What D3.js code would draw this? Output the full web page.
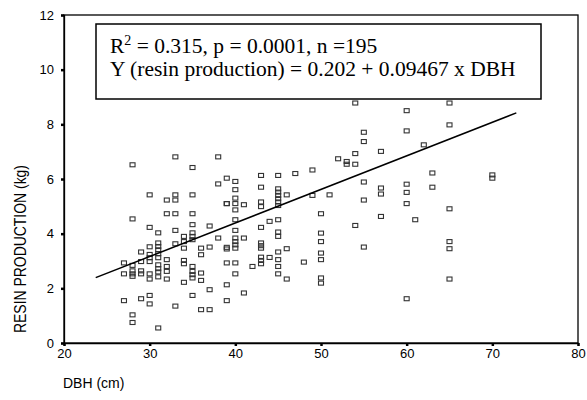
<!DOCTYPE html>
<html lang="en">
<head>
<meta charset="utf-8">
<title>Resin production vs DBH</title>
<style>
body { margin: 0; background: #fff; }
text { font-family: "Liberation Sans", Arial, sans-serif; fill: #000; }
.pts rect { fill: none; stroke: #333; stroke-width: 1.1px; }
.note text { font-family: "Liberation Serif", "Times New Roman", serif; font-size: 21.5px; }
</style>
</head>
<body>
<div id="chart"></div>
<script src="https://d3js.org/d3.v7.min.js"></script>
<script>

// DBH (cm) columns and the resin production values read for each
const dbh = [27, 28, 29, 30, 31, 32, 33, 34, 35, 36, 37, 38, 39, 40, 41, 42, 43, 44, 45, 46,
  47, 48, 49, 50, 51, 52, 53, 54, 55, 57, 60, 61, 62, 63, 65, 70];
const resin = [
  [2.93, 2.53, 1.55],
  [6.52, 4.54, 2.84, 2.64, 2.53, 2.44, 1.03, 0.75],
  [3.33, 2.98, 2.64, 2.53, 1.62],
  [5.42, 4.23, 3.52, 3.24, 3.12, 2.98, 2.53, 2.34, 1.74, 1.43],
  [4.03, 3.66, 3.53, 3.41, 3.27, 3.12, 2.86, 2.72, 2.60, 2.42, 0.55],
  [5.23, 4.73, 3.05, 2.80, 2.62, 2.34],
  [6.81, 5.42, 5.23, 4.73, 4.12, 3.63, 1.35],
  [3.90, 3.71, 3.47, 3.02, 2.90, 2.22],
  [6.42, 5.42, 4.73, 4.33, 4.03, 3.90, 3.78, 2.80, 2.62, 2.50, 2.38, 1.74],
  [3.47, 3.23, 2.56, 2.29, 1.22],
  [4.28, 3.51, 1.95, 1.22],
  [6.81, 5.82, 3.84],
  [6.03, 5.10, 5.10, 3.50, 3.44, 2.93, 2.13, 1.55],
  [5.91, 5.61, 5.30, 5.10, 4.87, 4.51, 4.12, 3.84, 3.71, 3.59, 3.47, 2.93, 2.53],
  [5.06, 3.84, 1.83],
  [2.80],
  [6.13, 5.70, 5.16, 4.99, 4.23, 3.66, 3.56, 3.47, 3.14, 3.02, 2.90],
  [4.45, 3.13],
  [6.13, 5.64, 5.52, 5.40, 5.28, 5.16, 5.03, 4.51, 4.06, 3.90, 3.33, 3.05, 2.80, 2.53],
  [5.42, 3.45, 2.34],
  [6.20],
  [2.96],
  [6.33, 5.40],
  [4.73, 4.02, 3.71, 3.29, 3.05, 2.38, 2.19],
  [5.42],
  [6.74],
  [6.64, 6.54],
  [8.78, 6.93, 6.54, 4.30],
  [7.71, 7.37, 5.89, 5.23, 3.51],
  [7.01, 5.67, 5.45, 4.63],
  [8.50, 7.76, 5.81, 5.51, 5.10, 1.62],
  [4.51],
  [7.25],
  [6.22, 5.70],
  [8.78, 7.98, 4.91, 3.71, 3.45, 2.34],
  [6.15, 6.03]
];

// fitted line as drawn in the figure
const fitX = [23.7, 72.8];
const fitY = [2.39, 8.42];

const xTicks = [20, 30, 40, 50, 60, 70, 80];
const yTicks = [0, 2, 4, 6, 8, 10, 12];

const width = 587, height = 400;

var svg = d3.select("#chart")
  .append("svg")
  .attr("width", width)
  .attr("height", height);

var x = d3.scaleLinear().domain([20, 80]).range([64, 578]);
var y = d3.scaleLinear().domain([0, 12]).range([343, 15]);

var points = [];
dbh.forEach(function(d, i) {
  resin[i].forEach(function(v) { points.push({ x: d, y: v }); });
});

// frame
svg.append("rect")
  .attr("x", x(20)).attr("y", y(12))
  .attr("width", x(80) - x(20)).attr("height", y(0) - y(12))
  .attr("fill", "none").attr("stroke", "#000").attr("stroke-width", 1.3);

var xAxis = svg.append("g")
  .attr("transform", "translate(0," + y(0) + ")")
  .call(d3.axisBottom(x).tickValues(xTicks).tickSize(3).tickPadding(3));
var yAxis = svg.append("g")
  .attr("transform", "translate(" + x(20) + ",0)")
  .call(d3.axisLeft(y).tickValues(yTicks).tickSize(3).tickPadding(7));

[xAxis, yAxis].forEach(function(a) {
  a.select(".domain").attr("stroke", "#000").attr("stroke-width", 1.3);
  a.selectAll(".tick line").attr("stroke", "#000").attr("stroke-width", 2.5);
  a.selectAll(".tick text").attr("font-size", 13).attr("font-family", "Liberation Sans, Arial, sans-serif");
});

// points
svg.append("g").attr("class", "pts")
  .selectAll("rect")
  .data(points)
  .enter().append("rect")
  .attr("x", function(d) { return x(d.x) - 2.5; })
  .attr("y", function(d) { return y(d.y) - 2; })
  .attr("width", 5)
  .attr("height", 4);

// regression line
svg.append("line")
  .attr("x1", x(fitX[0])).attr("y1", y(fitY[0]))
  .attr("x2", x(fitX[1])).attr("y2", y(fitY[1]))
  .attr("stroke", "#000").attr("stroke-width", 1.5);

// annotation box
var note = svg.append("g").attr("class", "note");
note.append("rect")
  .attr("x", 96).attr("y", 24).attr("width", 445).attr("height", 75)
  .attr("fill", "#fff").attr("stroke", "#000").attr("stroke-width", 1.5);
var l1 = note.append("text").attr("x", 110).attr("y", 53).attr("xml:space", "preserve");
l1.append("tspan").text("R");
l1.append("tspan").attr("font-size", 14).attr("dy", -8).text("2");
l1.append("tspan").attr("dy", 8).text(" = 0.315, p = 0.0001, n =195");
note.append("text").attr("x", 110).attr("y", 76)
  .text("Y (resin production) = 0.202 + 0.09467 x DBH");

// axis titles
svg.append("text")
  .attr("x", 63).attr("y", 388)
  .attr("font-size", 14)
  .text("DBH (cm)");
svg.append("text")
  .attr("transform", "translate(26,333) rotate(-90)")
  .attr("font-size", 16)
  .attr("textLength", 168)
  .attr("lengthAdjust", "spacingAndGlyphs")
  .text("RESIN PRODUCTION (kg)");

</script>
</body>
</html>
